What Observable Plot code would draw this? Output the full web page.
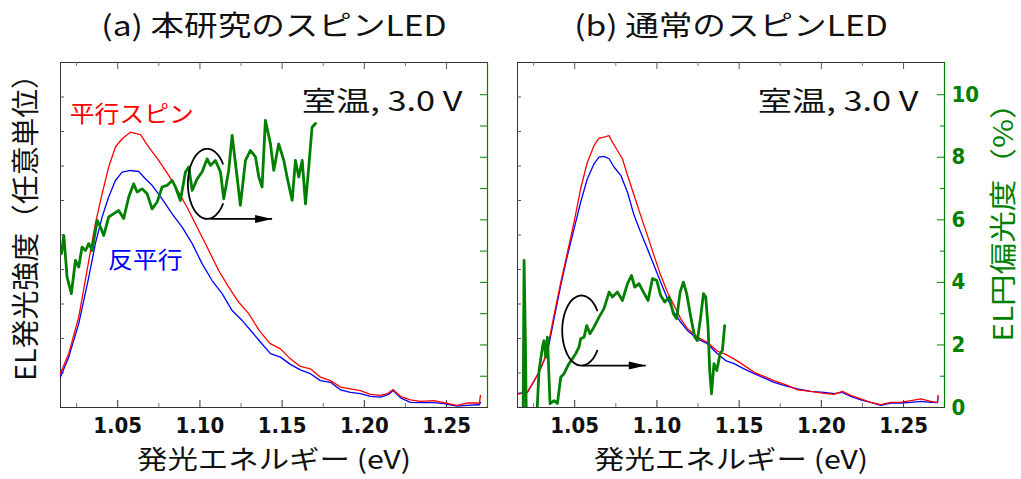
<!DOCTYPE html>
<html><head><meta charset="utf-8">
<script src="https://cdn.jsdelivr.net/npm/d3@7"></script>
<script src="https://cdn.jsdelivr.net/npm/@observablehq/plot@0.6"></script>
<style>
html,body{margin:0;padding:0;background:#fff;}
#wrap{position:relative;width:1021px;height:479px;overflow:hidden;background:#fff;}
#wrap svg{position:absolute;left:0;top:0;}
#wrap svg text{text-spacing-trim:space-all;}
</style></head>
<body><div id="wrap"></div>
<script>
// ---------- data ----------
// (a) 本研究のスピンLED : EL intensity (arb. units)
const aParX = [1.0151,1.0202,1.0263,1.0324,1.0364,1.0405,1.0445,1.0486,1.0527,1.0577,1.0638,1.0689,1.0749,1.0810,1.0871,1.0932,1.0993,1.1054,1.1114,1.1175,1.1236,1.1297,1.1358,1.1425,1.1490,1.1550,1.1611,1.1672,1.1733,1.1794,1.1855,1.1915,1.1976,1.2037,1.2098,1.2139,1.2175,1.2220,1.2280,1.2341,1.2422,1.2483,1.2564,1.2625,1.2686,1.2700,1.2706];
const aParY = [0.98,1.56,2.62,4.26,5.33,6.19,6.97,7.55,7.79,7.98,7.91,7.55,7.16,6.73,6.24,5.71,5.13,4.55,3.97,3.49,3.05,2.72,2.25,1.86,1.70,1.41,1.19,1.12,0.88,0.78,0.59,0.54,0.49,0.38,0.35,0.40,0.52,0.32,0.22,0.18,0.20,0.14,0.06,0.13,0.13,0.13,0.35];
const aAntiX = [1.0151,1.0202,1.0263,1.0324,1.0364,1.0405,1.0445,1.0486,1.0527,1.0577,1.0628,1.0668,1.0709,1.0770,1.0831,1.0892,1.0953,1.1013,1.1074,1.1135,1.1196,1.1257,1.1318,1.1373,1.1429,1.1459,1.1490,1.1550,1.1611,1.1672,1.1733,1.1794,1.1855,1.1915,1.1976,1.2037,1.2098,1.2148,1.2175,1.2220,1.2280,1.2341,1.2422,1.2483,1.2564,1.2625,1.2686,1.2700,1.2706];
const aAntiY = [0.88,1.46,2.43,3.78,4.75,5.52,6.10,6.58,6.82,6.87,6.84,6.63,6.44,6.05,5.61,5.23,4.75,4.17,3.68,3.30,2.81,2.52,2.18,1.87,1.56,1.51,1.46,1.25,1.09,0.98,0.78,0.73,0.51,0.44,0.40,0.32,0.30,0.38,0.49,0.28,0.15,0.14,0.14,0.11,0.04,0.06,0.08,0.08,0.15];
// (a) EL circular polarization (%)
const aPolX = [1.0158,1.0172,1.0192,1.0218,1.0243,1.0263,1.0283,1.0304,1.0324,1.0344,1.0375,1.0395,1.0415,1.0445,1.0476,1.0506,1.0536,1.0567,1.0597,1.0618,1.0648,1.0679,1.0709,1.0740,1.0770,1.0800,1.0831,1.0851,1.0881,1.0912,1.0932,1.0953,1.0983,1.1013,1.1044,1.1064,1.1094,1.1125,1.1145,1.1175,1.1196,1.1226,1.1246,1.1277,1.1307,1.1338,1.1358,1.1378,1.1398,1.1429,1.1449,1.1479,1.1510,1.1530,1.1561,1.1581,1.1601,1.1622,1.1642,1.1662,1.1682,1.1703];
const aPolY = [4.92,5.50,4.17,3.64,4.70,4.49,5.13,5.02,5.24,5.02,5.98,5.77,5.50,6.09,6.20,6.30,6.04,6.73,7.15,6.89,6.99,6.83,6.35,6.57,7.05,7.10,7.26,7.05,6.62,7.53,7.69,6.94,7.31,7.53,7.95,7.74,7.90,7.53,6.67,7.58,8.70,7.37,6.46,7.90,8.22,8.01,7.37,7.05,9.18,8.43,7.58,8.43,7.90,7.37,6.62,7.90,7.37,7.90,6.51,7.69,8.96,9.08];

// (b) 通常のスピンLED : EL intensity (arb. units)
const bParX = [1.0155,1.0212,1.0243,1.0283,1.0313,1.0334,1.0374,1.0415,1.0456,1.0496,1.0536,1.0577,1.0617,1.0648,1.0678,1.0709,1.0729,1.0760,1.0790,1.0821,1.0861,1.0901,1.0942,1.0982,1.1023,1.1064,1.1104,1.1145,1.1186,1.1246,1.1307,1.1368,1.1418,1.1469,1.1530,1.1591,1.1651,1.1712,1.1794,1.1855,1.1935,1.2016,1.2077,1.2128,1.2179,1.2240,1.2300,1.2361,1.2422,1.2483,1.2544,1.2605,1.2665,1.2706,1.2710];
const bParY = [0.39,0.44,0.69,1.02,1.36,1.70,2.67,3.63,4.50,5.37,6.34,7.11,7.59,7.81,7.84,7.88,7.69,7.45,7.21,6.73,6.15,5.57,4.99,4.41,3.83,3.34,2.96,2.57,2.28,2.04,1.89,1.63,1.54,1.41,1.22,1.02,0.90,0.78,0.64,0.51,0.47,0.41,0.38,0.47,0.35,0.25,0.15,0.08,0.15,0.15,0.20,0.25,0.18,0.15,0.35];
const bAntiX = [1.0155,1.0212,1.0243,1.0283,1.0313,1.0334,1.0374,1.0415,1.0456,1.0496,1.0536,1.0577,1.0617,1.0648,1.0678,1.0709,1.0739,1.0780,1.0821,1.0861,1.0901,1.0942,1.0982,1.1023,1.1064,1.1104,1.1145,1.1186,1.1246,1.1307,1.1368,1.1418,1.1469,1.1530,1.1591,1.1651,1.1712,1.1794,1.1855,1.1935,1.2016,1.2077,1.2128,1.2179,1.2240,1.2300,1.2361,1.2422,1.2483,1.2544,1.2605,1.2665,1.2706,1.2710];
const bAntiY = [0.41,0.44,0.69,1.02,1.36,1.60,2.57,3.54,4.41,5.18,5.95,6.63,7.06,7.26,7.28,7.21,6.97,6.73,6.24,5.57,5.08,4.60,4.12,3.63,3.15,2.76,2.47,2.23,1.99,1.85,1.56,1.36,1.27,1.12,0.98,0.86,0.73,0.61,0.54,0.47,0.44,0.40,0.44,0.32,0.22,0.15,0.06,0.13,0.13,0.15,0.18,0.15,0.14,0.30];
// (b) EL circular polarization (%)
const bPolX = [1.0186,1.0192,1.0199,1.0205,1.0215,1.0262,1.0273,1.0283,1.0304,1.0313,1.0324,1.0334,1.0350,1.0374,1.0395,1.0415,1.0435,1.0465,1.0506,1.0526,1.0536,1.0557,1.0573,1.0593,1.0617,1.0648,1.0678,1.0709,1.0729,1.0760,1.0790,1.0821,1.0845,1.0865,1.0891,1.0918,1.0946,1.0973,1.0999,1.1023,1.1047,1.1074,1.1100,1.1120,1.1141,1.1161,1.1181,1.1206,1.1230,1.1246,1.1266,1.1283,1.1297,1.1311,1.1321,1.1332,1.1347,1.1364,1.1384,1.1398,1.1412];
const bPolY = [-0.5,4.70,2.46,0,-1.5,-1.5,0.12,1.18,1.93,2.14,1.61,2.25,0.12,0.22,0.13,0.97,1.08,1.40,1.72,1.93,2.20,2.25,2.62,2.36,2.57,2.89,3.16,3.69,3.53,3.69,3.42,3.96,4.22,3.85,3.96,3.69,3.42,4.12,4.06,3.58,3.37,3.53,3.00,2.84,3.69,4.01,3.64,2.89,2.25,2.14,2.89,3.64,3.53,2.57,1.18,0.44,1.40,1.18,1.72,1.82,2.62];

// axes / ticks
const xDomain = [1.0152, 1.2749];
const intDomain = [0, 10];
const pctDomain = [0, 11.03];
const xMajorTicks = [1.05, 1.10, 1.15, 1.20, 1.25];
const xMinorTicks = [1.025, 1.075, 1.125, 1.175, 1.225];
const intTicks = [1, 2, 3, 4, 5, 6, 7, 8, 9];
const pctTicks = [1, 2, 3, 4, 5, 6, 7, 8, 9, 10];
const pctMajorTicks = [2, 4, 6, 8, 10];
const pctMinorTicks = [1, 3, 5, 7, 9];
const pctLabelTicks = [0, 2, 4, 6, 8, 10];

// texts
const panelTitles = ["(a) 本研究のスピンLED", "(b) 通常のスピンLED"];
const xTitle = "発光エネルギー (eV)";
const yLeftTitle = "EL発光強度（任意単位）";
const yRightTitle = "EL円偏光度（%）";
const condText = "室温, 3.0 V";
const seriesLabelText = ["平行スピン", "反平行"];
const seriesLabelX = [1.0586, 1.0668];
const seriesLabelY = [8.49, 4.25];

// circular-arrow annotation (data units: eV, %)
const arcCenterX = [1.1044, 1.0541];
const arcCenterY = [7.15, 2.46];
const arcRadiusX = [0.0117, 0.0117];
const arcRadiusY = [1.12, 1.12];
const arrowStartX = [1.1064, 1.0547];
const arrowEndX = [1.1439, 1.0932];
const arrowY = [6.03, 1.34];

// ---------- layout / style ----------
const W = 1021, H = 479, MT = 62, MB = 72;
const frames = [[60, 487], [517, 944]];
const FH = H - MT - MB;
const RED = "#ff0000", BLUE = "#0000ff", GREEN = "#008000";
const CJK = '"Noto Sans CJK JP", "Noto Sans CJK SC", sans-serif';
const NUM = '"DejaVu Sans Condensed", "DejaVu Sans", sans-serif';

const zip = (xs, ys) => xs.map((x, i) => ({x, y: ys[i]}));
const stretchScale = new Map([
  [panelTitles[0], 1.2], [panelTitles[1], 1.2], [xTitle, 1.17], [condText, 1.27],
  [seriesLabelText[0], 1.08], [seriesLabelText[1], 1.08],
  [yLeftTitle, 1.03], [yRightTitle, 1.17]
]);

// stretch some texts along their own writing direction, about their anchor point
function stretchTexts(svg) {
  svg.querySelectorAll("text").forEach(el => {
    const s = stretchScale.get(el.textContent);
    if (!s) return;
    const t = el.getAttribute("transform") || "";
    if (t.includes("rotate")) {
      el.setAttribute("transform", `${t} scale(${s},1)`);
      return;
    }
    const xv = parseFloat(el.getAttribute("x"));
    const x = isFinite(xv) ? xv : 0;
    el.setAttribute("transform", `${t} translate(${x},0) scale(${s},1) translate(${-x},0)`.trim());
  });
}

const arrowHead = {draw(ctx) { ctx.moveTo(0, 0); ctx.lineTo(-17, -4); ctx.lineTo(-17, 4); ctx.closePath(); }};

function arcPoints(i) {
  const pts = [];
  for (let a = 35; a <= 325; a += 5) {
    const r = a * Math.PI / 180;
    pts.push({x: arcCenterX[i] + arcRadiusX[i] * Math.cos(r), y: arcCenterY[i] + arcRadiusY[i] * Math.sin(r)});
  }
  return pts;
}

function intensityPlot(i, par, anti) {
  const [L, R] = frames[i];
  const FW = R - L;
  const marks = [
    Plot.frame({stroke: "#333"}),
    Plot.tickX(xMajorTicks, {x: d => d, insetTop: FH - 7, stroke: "#333"}),
    Plot.tickX(xMajorTicks, {x: d => d, insetBottom: FH - 7, stroke: "#555"}),
    Plot.tickX(xMinorTicks, {x: d => d, insetTop: FH - 4, stroke: "#777"}),
    Plot.tickX(xMinorTicks, {x: d => d, insetBottom: FH - 4, stroke: "#777"}),
    Plot.tickY(intTicks, {y: d => d, insetRight: FW - 4, stroke: "#555"}),
    Plot.line(anti, {x: "x", y: "y", stroke: BLUE, strokeWidth: 1.3, clip: true}),
    Plot.line(par, {x: "x", y: "y", stroke: RED, strokeWidth: 1.3, clip: true}),
    Plot.axisX(xMajorTicks, {tickSize: 0, tickPadding: 10, tickFormat: d => d.toFixed(2), fontSize: 22, fontWeight: "bold", fontFamily: NUM, color: "#111", label: null}),
    Plot.text([panelTitles[i]], {frameAnchor: "top", text: d => d, textAnchor: "middle", lineAnchor: "middle", dy: -35, fontSize: 28, fontFamily: CJK, fill: "#111"}),
    Plot.text([xTitle], {frameAnchor: "bottom", text: d => d, textAnchor: "middle", lineAnchor: "middle", dy: 53, fontSize: 26, fontFamily: CJK, fill: "#111"}),
    Plot.text([condText], {frameAnchor: "top-right", text: d => d, textAnchor: "end", lineAnchor: "middle", dx: i === 0 ? -25 : -26, dy: 40, fontSize: 27, fontFamily: CJK, fill: "#111"})
  ];
  if (i === 0) {
    const labels = seriesLabelText.map((t, k) => ({t, x: seriesLabelX[k], y: seriesLabelY[k]}));
    marks.push(
      Plot.text([labels[0]], {x: "x", y: "y", text: "t", textAnchor: "middle", lineAnchor: "middle", fontSize: 23, fontFamily: CJK, fill: RED}),
      Plot.text([labels[1]], {x: "x", y: "y", text: "t", textAnchor: "middle", lineAnchor: "middle", fontSize: 23, fontFamily: CJK, fill: BLUE}),
      Plot.text([yLeftTitle], {frameAnchor: "left", text: d => d, textAnchor: "middle", lineAnchor: "middle", rotate: -90, dx: -33, dy: -14.5, fontSize: 28, fontFamily: CJK, fill: "#111"})
    );
  }
  return Plot.plot({
    width: W, height: H, marginLeft: L, marginRight: W - R, marginTop: MT, marginBottom: MB,
    x: {domain: xDomain, axis: null}, y: {domain: intDomain, axis: null},
    style: {background: "transparent", overflow: "visible"},
    marks
  });
}

function polPlot(i, pol) {
  const [L, R] = frames[i];
  const FW = R - L;
  const arrows = [{x1: arrowStartX[i], x2: arrowEndX[i], y: arrowY[i]}];
  const marks = [];
  if (i === 0) {
    marks.push(Plot.tickY(pctTicks, {y: d => d, insetLeft: FW - 7, stroke: GREEN}));
  } else {
    marks.push(
      Plot.tickY(pctMajorTicks, {y: d => d, insetLeft: FW - 7, stroke: GREEN}),
      Plot.tickY(pctMinorTicks, {y: d => d, insetLeft: FW - 4, stroke: GREEN})
    );
  }
  marks.push(
    Plot.ruleX([xDomain[1]], {stroke: GREEN, strokeWidth: 1.2}),
    Plot.line(pol, {x: "x", y: "y", stroke: GREEN, strokeWidth: 2.8, clip: true}),
    Plot.line(arcPoints(i), {x: "x", y: "y", stroke: "#000", strokeWidth: 1.8, curve: "catmull-rom"}),
    Plot.link(arrows, {x1: "x1", x2: "x2", y1: "y", y2: "y", stroke: "#000", strokeWidth: 1.8}),
    Plot.dot(arrows, {x: "x2", y: "y", symbol: arrowHead, fill: "#000", stroke: null, r: 5})
  );
  if (i === 1) {
    marks.push(
      Plot.axisY(pctLabelTicks, {anchor: "right", tickSize: 0, tickPadding: 7, fontSize: 22, fontWeight: "bold", fontFamily: NUM, color: GREEN, label: null}),
      Plot.text([yRightTitle], {frameAnchor: "right", text: d => d, textAnchor: "middle", lineAnchor: "middle", rotate: -90, dx: 60, dy: -20.5, fontSize: 27, fontFamily: CJK, fill: GREEN})
    );
  }
  return Plot.plot({
    width: W, height: H, marginLeft: L, marginRight: W - R, marginTop: MT, marginBottom: MB,
    x: {domain: xDomain, axis: null}, y: {domain: pctDomain, axis: null},
    style: {background: "transparent", overflow: "visible"},
    marks
  });
}

const wrap = document.getElementById("wrap");
const svgs = [
  intensityPlot(0, zip(aParX, aParY), zip(aAntiX, aAntiY)),
  intensityPlot(1, zip(bParX, bParY), zip(bAntiX, bAntiY)),
  polPlot(0, zip(aPolX, aPolY)),
  polPlot(1, zip(bPolX, bPolY))
];
svgs.forEach(s => { wrap.appendChild(s); stretchTexts(s); });
</script>
</body></html>
